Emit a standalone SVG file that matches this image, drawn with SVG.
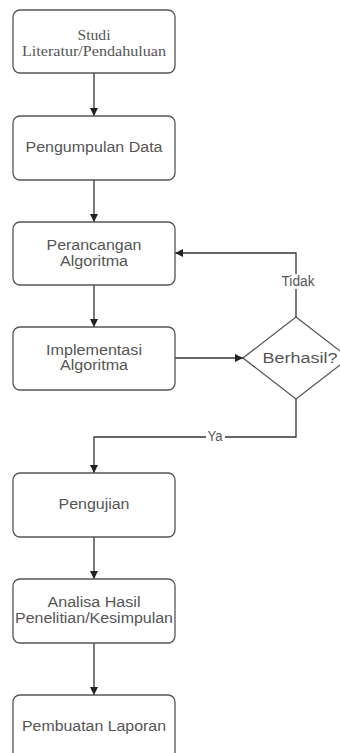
<svg xmlns="http://www.w3.org/2000/svg" width="340" height="753" viewBox="0 0 340 753">
<defs>
<style>
.box{fill:#fff;stroke:#555;stroke-width:1.3}
.t{font-family:"Liberation Sans",Arial,sans-serif;font-size:14px;fill:#555;text-anchor:middle}
.s{font-family:"Liberation Serif","Times New Roman",serif;font-size:14px;fill:#555;text-anchor:middle}
.c{fill:none;stroke:#333;stroke-width:1.3}
</style>
<marker id="ah" markerWidth="8" markerHeight="8" refX="8" refY="4" orient="auto" markerUnits="userSpaceOnUse">
<path d="M0,0 L8,4 L0,8 Z" fill="#222"/>
</marker>
</defs>
<rect width="340" height="753" fill="#fff"/>
<g id="connectors">
<path class="c" d="M94,73 V116" marker-end="url(#ah)"/>
<path class="c" d="M94,180 V222" marker-end="url(#ah)"/>
<path class="c" d="M94,285 V327" marker-end="url(#ah)"/>
<path class="c" d="M175,358 H243" marker-end="url(#ah)"/>
<path class="c" d="M296,317 V253 H175" marker-end="url(#ah)"/>
<path class="c" d="M296,399 V437 H94 V473" marker-end="url(#ah)"/>
<path class="c" d="M94,537 V579" marker-end="url(#ah)"/>
<path class="c" d="M94,643 V695" marker-end="url(#ah)"/>
<rect x="206" y="430" width="19" height="14" fill="#fff"/>
<text class="t" x="215" y="441" font-size="11" textLength="15" lengthAdjust="spacingAndGlyphs">Ya</text>
<rect x="280" y="274" width="36" height="15" fill="#fff"/>
<text class="t" x="298" y="286" textLength="33" lengthAdjust="spacingAndGlyphs">Tidak</text>
</g>
<g id="n1">
<rect class="box" x="13" y="10" width="162" height="63" rx="7"/>
<text class="s" x="94" y="40" textLength="33" lengthAdjust="spacingAndGlyphs">Studi</text>
<text class="s" x="94" y="56" textLength="144" lengthAdjust="spacingAndGlyphs">Literatur/Pendahuluan</text>
</g>
<g id="n2">
<rect class="box" x="13" y="116" width="162" height="64" rx="7"/>
<text class="t" x="94" y="152" textLength="137" lengthAdjust="spacingAndGlyphs">Pengumpulan Data</text>
</g>
<g id="n3">
<rect class="box" x="13" y="222" width="162" height="63" rx="7"/>
<text class="t" x="94" y="250" textLength="95" lengthAdjust="spacingAndGlyphs">Perancangan</text>
<text class="t" x="94" y="266" textLength="68" lengthAdjust="spacingAndGlyphs">Algoritma</text>
</g>
<g id="n4">
<rect class="box" x="13" y="327" width="162" height="63" rx="7"/>
<text class="t" x="94" y="355" textLength="96" lengthAdjust="spacingAndGlyphs">Implementasi</text>
<text class="t" x="94" y="370" textLength="68" lengthAdjust="spacingAndGlyphs">Algoritma</text>
</g>
<g id="d1">
<path class="box" d="M296,317 L349,358 L296,399 L243,358 Z"/>
<text class="t" x="300" y="363" textLength="75" lengthAdjust="spacingAndGlyphs">Berhasil?</text>
</g>
<g id="n5">
<rect class="box" x="13" y="473" width="162" height="64" rx="7"/>
<text class="t" x="94" y="509" textLength="71" lengthAdjust="spacingAndGlyphs">Pengujian</text>
</g>
<g id="n6">
<rect class="box" x="13" y="579" width="162" height="64" rx="7"/>
<text class="t" x="94" y="607" textLength="93" lengthAdjust="spacingAndGlyphs">Analisa Hasil</text>
<text class="t" x="94" y="623" textLength="158" lengthAdjust="spacingAndGlyphs">Penelitian/Kesimpulan</text>
</g>
<g id="n7">
<rect class="box" x="13" y="695" width="162" height="64" rx="7"/>
<text class="t" x="94" y="731" textLength="144" lengthAdjust="spacingAndGlyphs">Pembuatan Laporan</text>
</g>
</svg>
